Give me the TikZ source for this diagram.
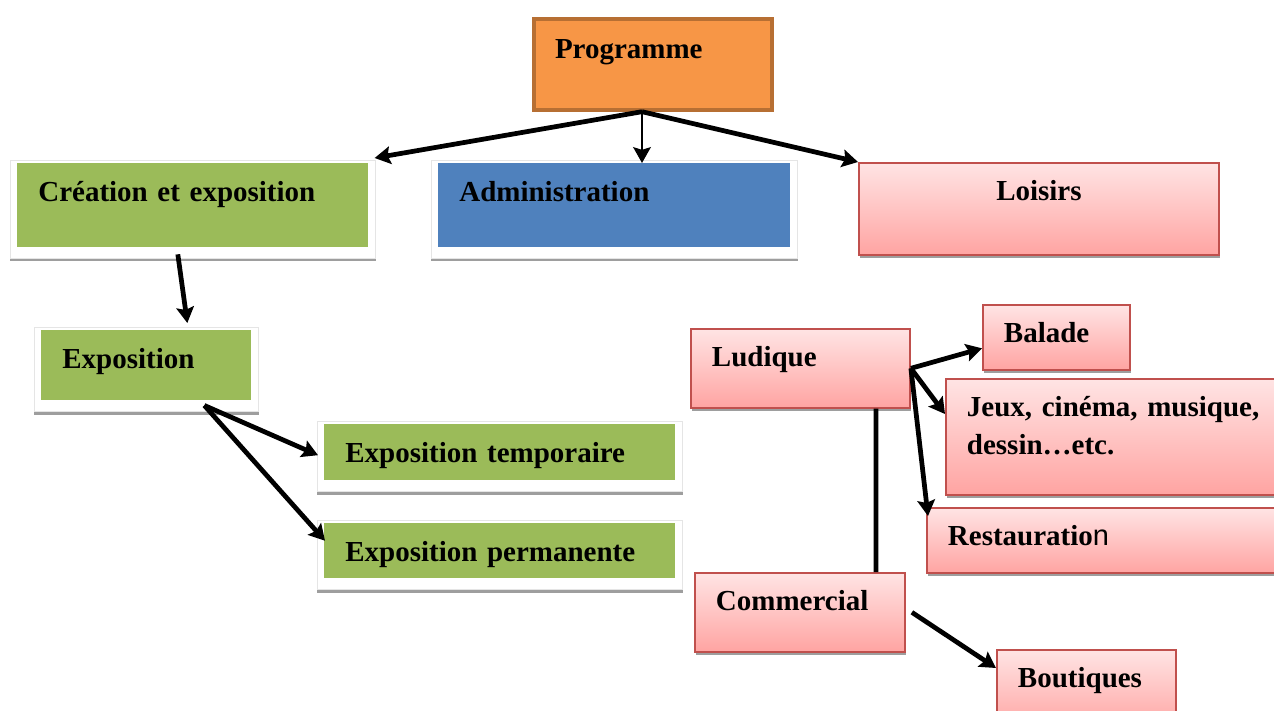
\documentclass[tikz,border=0pt]{standalone}
\usepackage{fontspec}
\setmainfont{Liberation Serif}
\newfontfamily\sansn{Liberation Sans}
\usetikzlibrary{arrows.meta,calc,shadows,backgrounds}

\definecolor{progfill}{HTML}{F79646}
\definecolor{progline}{HTML}{B76F33}
\definecolor{boxgreen}{HTML}{9BBB59}
\definecolor{boxblue}{HTML}{4F81BD}
\definecolor{pinkline}{HTML}{C0504D}
\definecolor{pinktop}{HTML}{FFE4E4}
\definecolor{pinkbot}{HTML}{FFA4A2}

\begin{document}
\begin{tikzpicture}[x=0.02cm,y=-0.02cm,
  box/.style={anchor=north west, rectangle, inner xsep=0.42cm, inner ysep=0pt,
    text height=21.5pt, align=left, font=\fontsize{16.5}{21.5}\selectfont\bfseries},
  progbox/.style={box, fill=progfill, draw=progline, line width=2.3pt},
  greenbox/.style={box, fill=boxgreen},
  bluebox/.style={box, fill=boxblue},
  pinkbox/.style={box, draw=pinkline, line width=1.1pt, top color=pinktop, bottom color=pinkbot,
    drop shadow={shadow xshift=0.6pt, shadow yshift=-1.8pt, fill=black!38, opacity=1}},
  frame/.style={fill=white, draw=black!10, line width=0.5pt,
    drop shadow={shadow xshift=0pt, shadow yshift=-1.8pt, fill=black!38, opacity=1}},
  arr/.style={line width=2.7pt, -{Stealth[length=9pt,width=10pt,inset=1.5pt]}},
  link/.style={line width=2.7pt}]

  \useasboundingbox (0,0) rectangle (1274,710);

  % top level
  \node[progbox, text height=22.5pt, text depth=29.1pt, text width=3.92cm] (prog) at (532,17) {Programme};

  \node[greenbox, text width=6.18cm, text depth=26.1pt] (crea) at (17,163) {Création et exposition};
  \node[bluebox, text width=6.20cm, text depth=26.1pt] (adm) at (438,163) {Administration};
  \node[pinkbox, align=center, text width=6.36cm, text depth=30.7pt] (lois) at (858,162) {Loisirs};

  % creation branch
  \node[greenbox, text width=3.36cm, text depth=18.2pt] (expo) at (41,330) {Exposition};
  \node[greenbox, text width=6.18cm, text depth=10.2pt] (temp) at (324,424) {Exposition temporaire};
  \node[greenbox, text width=6.18cm, text depth=9.7pt] (perm) at (324,523) {Exposition permanente};

  % loisirs branch
  \node[pinkbox, text width=3.54cm, text depth=23.3pt] (lud) at (690,328) {Ludique};
  \node[pinkbox, text width=2.10cm, text depth=15.3pt] (bal) at (982,304) {Balade};
  \node[pinkbox, text width=6.06cm, text depth=44.3pt] (jeux) at (945,378) {Jeux, cinéma, musique,\\dessin…etc.};
  \node[pinkbox, text width=6.44cm, text depth=15.3pt] (rest) at (926,507) {Restauratio{\sansn\mdseries n}};
  \node[pinkbox, text width=3.36cm, text depth=23.3pt] (com) at (694,572) {Commercial};
  \node[pinkbox, text width=2.74cm, text depth=23.9pt] (bout) at (996,649) {Boutiques};

  \begin{scope}[on background layer]
    \foreach \n in {crea,adm,expo,temp,perm}
      \draw[frame] ($(\n.north west)+(-7,-3)$) rectangle ($(\n.south east)+(7,11)$);
  \end{scope}

  \coordinate (progfoot) at ($(prog.south)+(-11,0)$);

  \draw[arr] (progfoot) -- ($(crea.north east)+(6,-5)$);
  \draw[arr, line width=1.4pt] (progfoot) -- (progfoot |- adm.north);
  \draw[arr] (progfoot) -- (lois.north west);

  \draw[arr] ($(crea.south)+(-15,7)$) -- ($(expo.north)+(41,-7)$);
  \draw[arr] ($(expo.south)+(58,5)$) -- ($(temp.west)+(-6,3)$);
  \draw[arr] ($(expo.south)+(58,5)$) -- ($(perm.west)+(1,-10)$);

  \draw[arr] (lud.east) -- ($(bal.west)+(0,11)$);
  \draw[arr] (lud.east) -- ($(jeux.north west)+(0,36)$);
  \draw[arr] (lud.east) -- ($(rest.north west)+(2,9)$);
  \draw[link] ($(lud.south east)+(-35,0)$) -- ($(com.north east)+(-30,0)$);
  \draw[arr] ($(com.east)+(6,0)$) -- ($(bout.north west)+(0,19)$);

\end{tikzpicture}
\end{document}
